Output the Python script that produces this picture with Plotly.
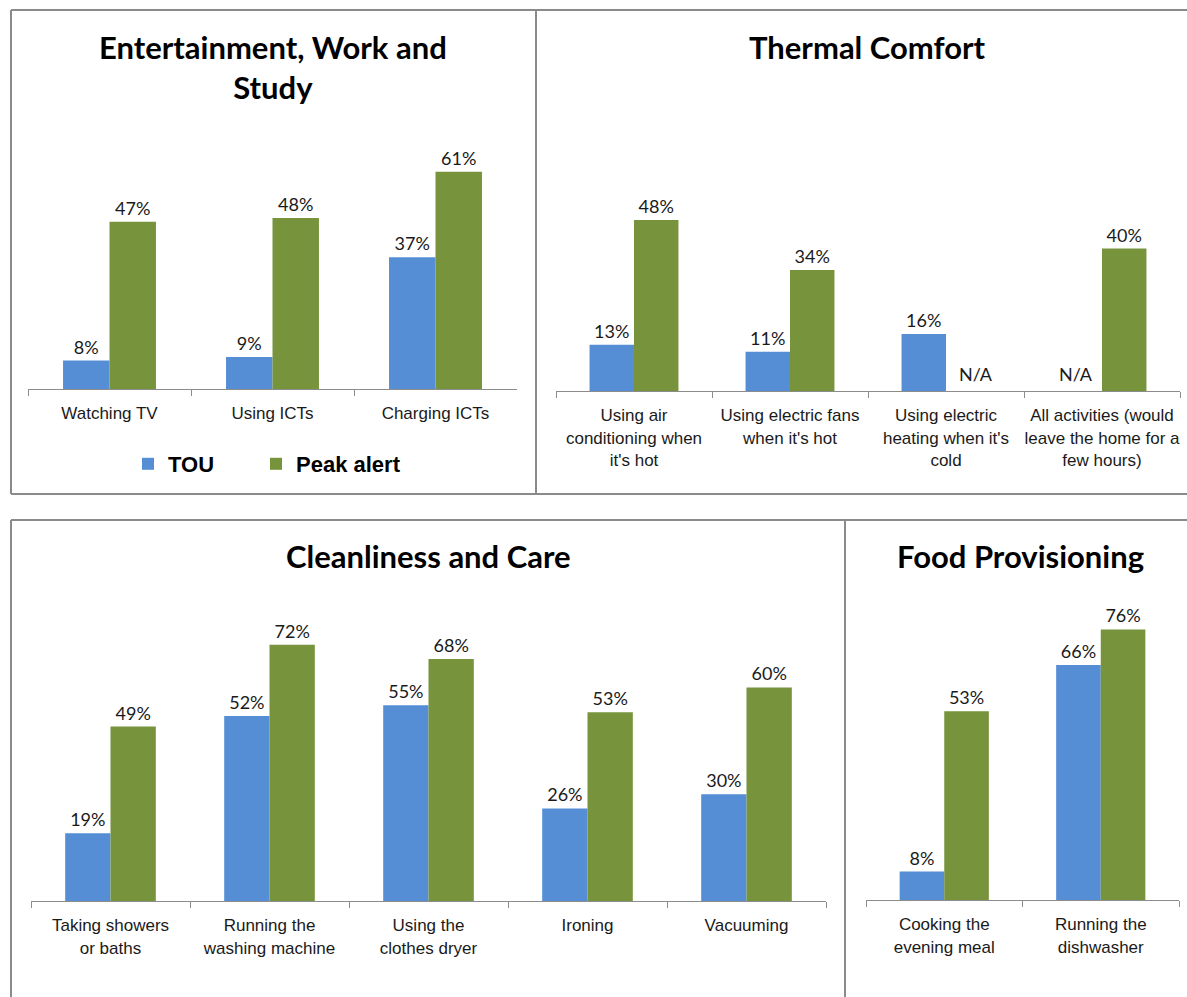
import plotly.graph_objects as go

W, H = 1187, 997

# ---- data -------------------------------------------------------------
series_names = ["TOU", "Peak alert"]

ent_title = "Entertainment, Work and<br>Study"
ent_cats = ["Watching TV", "Using ICTs", "Charging ICTs"]
ent_tou = [0.08, 0.09, 0.37]
ent_peak = [0.47, 0.48, 0.61]

therm_title = "Thermal Comfort"
therm_cats = [
    "Using air<br>conditioning when<br>it's hot",
    "Using electric fans<br>when it's hot",
    "Using electric<br>heating when it's<br>cold",
    "All activities (would<br>leave the home for a<br>few hours)",
]
therm_tou = [0.13, 0.11, 0.16, None]
therm_peak = [0.48, 0.34, None, 0.40]

clean_title = "Cleanliness and Care"
clean_cats = [
    "Taking showers<br>or baths",
    "Running the<br>washing machine",
    "Using the<br>clothes dryer",
    "Ironing",
    "Vacuuming",
]
clean_tou = [0.19, 0.52, 0.55, 0.26, 0.30]
clean_peak = [0.49, 0.72, 0.68, 0.53, 0.60]

food_title = "Food Provisioning"
food_cats = ["Cooking the<br>evening meal", "Running the<br>dishwasher"]
food_tou = [0.08, 0.66]
food_peak = [0.53, 0.76]

# ---- styling ----------------------------------------------------------
BLUE = "#558ED5"
GREEN = "#77933C"
AXIS_GREY = "#8C8C8C"
FRAME_GREY = "#8A8A8A"
TITLE_FONT = dict(family="Lato, Carlito, sans-serif", size=31, color="#000000")
LABEL_FONT = dict(family="Lato, sans-serif", size=18, color="#1a1a1a")
TICK_FONT = dict(family="Liberation Sans, Arial, sans-serif", size=17, color="#1a1a1a")
LEGEND_FONT = dict(family="Liberation Sans, Arial, sans-serif", size=22,
                   color="#000000", weight="bold")


def px(x):
    return x / W


def py(y):
    return 1 - y / H


# (title, categories, tou, peak, x-left px, x-right px, baseline px, y max, title x, title y)
panels = [
    (ent_title, ent_cats, ent_tou, ent_peak, 28, 517, 389, 0.80, 273, 67),
    (therm_title, therm_cats, therm_tou, therm_peak, 556, 1180, 391, 0.80, 867, 47),
    (clean_title, clean_cats, clean_tou, clean_peak, 31, 826, 901, 0.85, 428, 556),
    (food_title, food_cats, food_tou, food_peak, 866, 1179, 900, 0.85, 1020, 556),
]
PX_PER_UNIT = 356.0  # vertical pixels for 100 %
legend_ids = ["legend", "legend2"]

fig = go.Figure()
annotations = []

for i, (title, cats, tou, peak, xl, xr, base, ymax, tx, ty) in enumerate(panels):
    n = "" if i == 0 else str(i + 1)
    xa, ya = "x" + n, "y" + n
    for k, (vals, color) in enumerate(((tou, BLUE), (peak, GREEN))):
        fig.add_trace(go.Bar(
            x=cats, y=vals, name=series_names[k],
            marker=dict(color=color, line=dict(width=0)),
            texttemplate="%{y:.0%}", textposition="outside",
            textfont=LABEL_FONT, cliponaxis=False,
            xaxis=xa, yaxis=ya,
            legend=legend_ids[k], legendgroup=series_names[k],
            showlegend=(i == 0),
        ))
    top = base - ymax * PX_PER_UNIT
    fig.layout["xaxis" + n] = dict(
        domain=[px(xl), px(xr)], anchor=ya, type="category",
        range=[-0.5, len(cats) - 0.5],
        showline=True, linecolor=AXIS_GREY, linewidth=1,
        ticks="outside", tickson="boundaries", ticklen=6, tickcolor=AXIS_GREY,
        ticklabelstandoff=9,
        tickangle=0, tickfont=TICK_FONT, showgrid=False, zeroline=False,
        fixedrange=True,
    )
    fig.layout["yaxis" + n] = dict(
        domain=[py(base), py(top)], anchor=xa, range=[0, ymax],
        visible=False, showgrid=False, zeroline=False, fixedrange=True,
    )
    annotations.append(dict(
        text="<b>" + title + "</b>", x=px(tx), y=py(ty), xref="paper", yref="paper",
        xanchor="center", yanchor="middle", showarrow=False, font=TITLE_FONT,
    ))

# Thermal comfort: activities with no corresponding measure
annotations.append(dict(text="N/A", x=therm_cats[2], y=0, xref="x2", yref="y2",
                        xshift=30, yshift=4, yanchor="bottom", showarrow=False,
                        font=LABEL_FONT))
annotations.append(dict(text="N/A", x=therm_cats[3], y=0, xref="x2", yref="y2",
                        xshift=-26, yshift=4, yanchor="bottom", showarrow=False,
                        font=LABEL_FONT))

# panel frames
frame = [
    (11, 10, 1187, 10), (11, 10, 11, 494), (536, 10, 536, 494), (11, 494, 1187, 494),
    (11, 520, 1187, 520), (11, 520, 11, 997), (845, 520, 845, 997),
]
shapes = [dict(type="line", xref="paper", yref="paper",
               x0=px(a), y0=py(b), x1=px(c), y1=py(d),
               line=dict(color=FRAME_GREY, width=2)) for a, b, c, d in frame]

legend_common = dict(orientation="h", yanchor="middle", xanchor="left",
                     font=LEGEND_FONT, bgcolor="rgba(0,0,0,0)")

fig.update_layout(
    width=W, height=H,
    margin=dict(l=0, r=0, t=0, b=0),
    paper_bgcolor="white", plot_bgcolor="white",
    barmode="group", bargap=0.43, bargroupgap=0,
    annotations=annotations, shapes=shapes,
    legend=dict(x=px(128), y=py(464), **legend_common),
    legend2=dict(x=px(256), y=py(464), **legend_common),
)

fig.write_html("out.html")
